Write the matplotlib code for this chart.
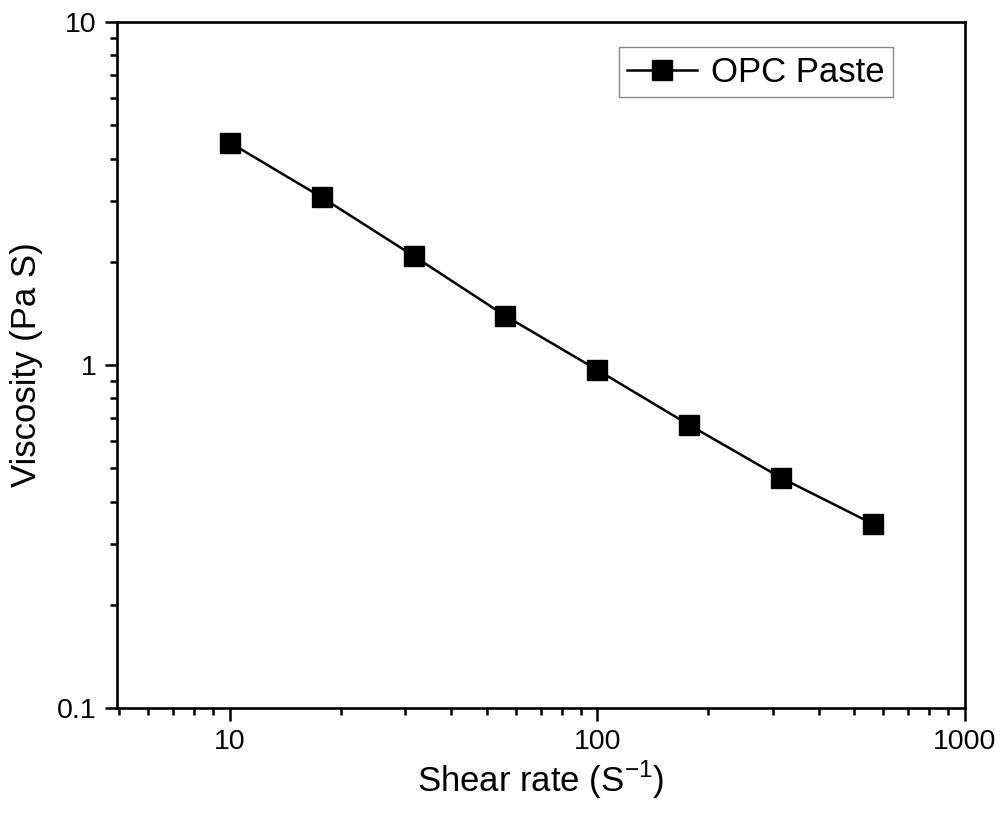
import matplotlib.pyplot as plt
from matplotlib.ticker import LogLocator, NullFormatter, FixedFormatter, FixedLocator

plt.rcParams['font.family'] = ['Liberation Sans', 'DejaVu Sans']

# data
shear_rate = [10, 17.8, 31.6, 56.2, 100, 178, 316, 562]
viscosity = [4.45, 3.08, 2.08, 1.39, 0.967, 0.668, 0.469, 0.344]

x_ticks = [10, 100, 1000]
x_labels = ['10', '100', '1000']
y_ticks = [0.1, 1, 10]
y_labels = ['0.1', '1', '10']

fig = plt.figure(figsize=(10.03, 8.19), dpi=100)
ax = fig.add_axes([0.1167, 0.1355, 0.8454, 0.8376])

ax.plot(shear_rate, viscosity, c='black', linewidth=1.8, marker='s',
        markersize=15, label='OPC Paste')

ax.set_xscale('log')
ax.set_yscale('log')
ax.set_xlim(4.93, 1000)
ax.set_ylim(0.1, 10)

ax.xaxis.set_major_locator(FixedLocator(x_ticks))
ax.xaxis.set_major_formatter(FixedFormatter(x_labels))
ax.yaxis.set_major_locator(FixedLocator(y_ticks))
ax.yaxis.set_major_formatter(FixedFormatter(y_labels))
ax.xaxis.set_minor_locator(LogLocator(base=10, subs=range(2, 10)))
ax.yaxis.set_minor_locator(LogLocator(base=10, subs=range(2, 10)))
ax.xaxis.set_minor_formatter(NullFormatter())
ax.yaxis.set_minor_formatter(NullFormatter())

ax.tick_params(which='major', direction='out', length=9, width=1.8,
               labelsize=20.5, top=False, right=False, pad=6)
ax.tick_params(which='minor', direction='out', length=5, width=1.8,
               top=False, right=False)
for s in ax.spines.values():
    s.set_linewidth(1.9)

ax.set_xlabel('Shear rate (S$^{\\mathregular{-1}}$)', fontsize=25, labelpad=3)
ax.set_ylabel('Viscosity (Pa S)', fontsize=25, labelpad=10)

leg = ax.legend(loc='upper right', bbox_to_anchor=(0.915, 0.9636),
                borderaxespad=0, fontsize=25, numpoints=1, handlelength=2.0,
                handletextpad=0.4, borderpad=0.25, fancybox=False,
                framealpha=1)
leg.get_frame().set_edgecolor('#888888')
leg.get_frame().set_linewidth(1.0)

fig.savefig('out.png', dpi=100)
